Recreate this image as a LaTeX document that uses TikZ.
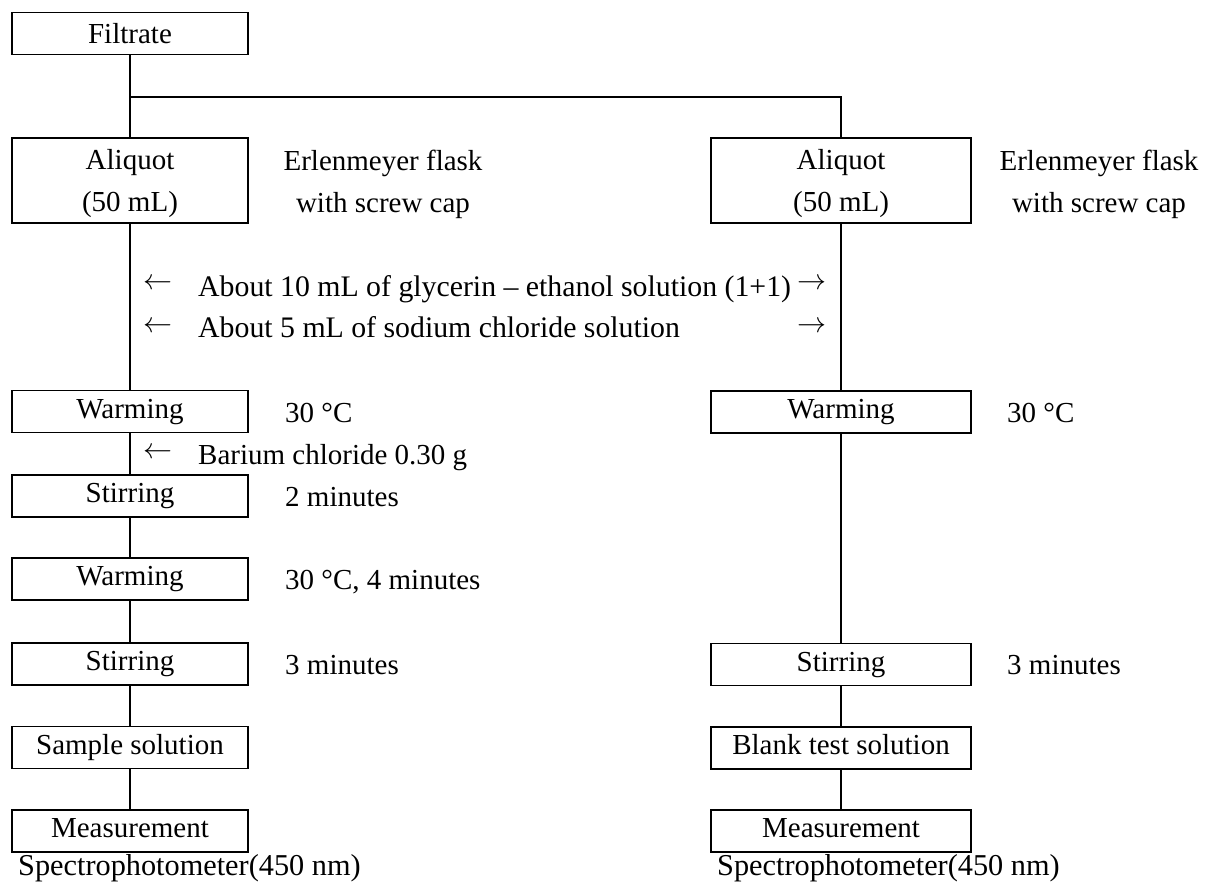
\RequirePackage{fix-cm}
\documentclass[tikz,border=0pt]{standalone}
\usepackage{fontspec}
\setmainfont{Liberation Serif}
\begin{document}
\begin{tikzpicture}[x=1pt,y=-1pt,
  every node/.style={font=\fontsize{29}{34}\selectfont, inner sep=0pt, text height=20pt, text depth=6.3pt},
  box/.style={draw, line width=1.6pt, minimum height=42pt},
  lbox/.style={box, minimum width=236pt},
  rbox/.style={box, minimum width=260pt},
  lab/.style={anchor=west},
  big/.style={font=\fontsize{30.3}{34}\selectfont},
  conn/.style={line width=1.6pt}]
\useasboundingbox (0,0) rectangle (1212,892);
% top
\node[lbox, text height=27pt] (filt) at (130,33.5) {Filtrate};
\coordinate (br) at (130,97);
% aliquots
\node[lbox, minimum height=85pt] (aliqL) at (130,180.5) {};
\node (aliqLa) at (130,163) {Aliquot};
\node (aliqLb) at (130,205) {(50 mL)};
\node (erlLa) at (383,164) {Erlenmeyer flask};
\node (erlLb) at (383,206) {with screw cap};
\node[rbox, minimum height=85pt] (aliqR) at (841,180.5) {};
\node (aliqRa) at (841,163) {Aliquot};
\node (aliqRb) at (841,205) {(50 mL)};
\node (erlRa) at (1099,164) {Erlenmeyer flask};
\node (erlRb) at (1099,206) {with screw cap};
% additions
\node[lab] (a1l) at (143,283) {$\leftarrow$};
\node[lab, font=\fontsize{29.8}{34}\selectfont] (t1) at (198,290) {About 10 mL of glycerin – ethanol solution (1+1)};
\node[lab] (a1r) at (797,283) {$\rightarrow$};
\node[lab] (a2l) at (143,326) {$\leftarrow$};
\node[lab, font=\fontsize{29.8}{34}\selectfont] (t2) at (198,331) {About 5 mL of sodium chloride solution};
\node[lab] (a2r) at (797,326) {$\rightarrow$};
% warming
\node[lbox] (wL1) at (130,411.5) {Warming};
\node[lab] (wL1t) at (285,416) {30 °C};
\node[rbox] (wR) at (841,412) {Warming};
\node[lab] (wRt) at (1007,416) {30 °C};
\node[lab] (a3l) at (143,452) {$\leftarrow$};
\node[lab] (t3) at (198,458) {Barium chloride 0.30 g};
\node[lbox] (sL1) at (130,496) {Stirring};
\node[lab] (sL1t) at (285,500) {2 minutes};
\node[lbox] (wL2) at (130,579) {Warming};
\node[lab] (wL2t) at (285,583) {30 °C, 4 minutes};
\node[lbox] (sL2) at (130,664) {Stirring};
\node[lab] (sL2t) at (285,668) {3 minutes};
\node[rbox] (sR) at (841,664.5) {Stirring};
\node[lab] (sRt) at (1007,668) {3 minutes};
\node[lbox] (samp) at (130,747.5) {Sample solution};
\node[rbox] (blank) at (841,748) {Blank test solution};
\node[lbox] (mL) at (130,831) {Measurement};
\node[rbox] (mR) at (841,831) {Measurement};
\node[lab, big] (specL) at (18,869) {Spectrophotometer(450 nm)};
\node[lab, big] (specR) at (717,869) {Spectrophotometer(450 nm)};
% connectors
\draw[conn] (filt) -- (aliqL);
\draw[conn] (br) -| (aliqR);
\draw[conn] (aliqL) -- (wL1);
\draw[conn] (wL1) -- (sL1);
\draw[conn] (sL1) -- (wL2);
\draw[conn] (wL2) -- (sL2);
\draw[conn] (sL2) -- (samp);
\draw[conn] (samp) -- (mL);
\draw[conn] (aliqR) -- (wR);
\draw[conn] (wR) -- (sR);
\draw[conn] (sR) -- (blank);
\draw[conn] (blank) -- (mR);
\end{tikzpicture}
\end{document}
